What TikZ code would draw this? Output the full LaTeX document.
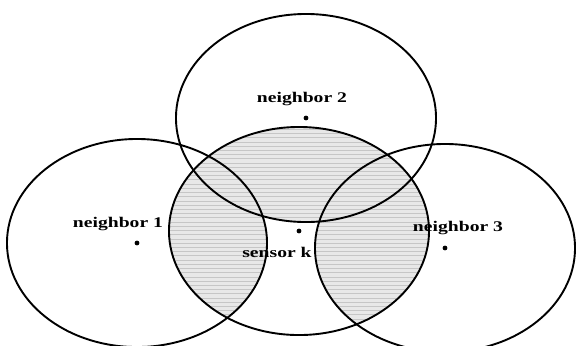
\documentclass[tikz,border=0pt]{standalone}
\usepackage{fontspec}
\setmainfont{Liberation Serif}
\usetikzlibrary{patterns}

\begin{document}
\begin{tikzpicture}[x=0.025cm, y=-0.025cm,
  rad/.style={x radius=3.25cm, y radius=2.6cm},
  zone/.style={line width=1.35pt},
  covered/.style={fill=gray!18, postaction={pattern=horizontal lines, pattern color=gray!45}},
  dot/.style={circle, fill, inner sep=0pt, minimum size=3.4pt},
  lbl/.style={font=\fontsize{10.5}{12}\selectfont\bfseries, xscale=1.33, anchor=base, inner sep=0pt}]
  \useasboundingbox (0,0) rectangle (577,345);
  \clip (0,0) rectangle (577,345);
  % sensors
  \node[dot] (n1) at (137,243) {};
  \node[dot] (n2) at (306,118) {};
  \node[dot] (n3) at (445,248) {};
  \node[dot] (k)  at (299,231) {};
  % area of sensor k covered by neighbors
  \begin{scope}
    \clip (k) ellipse [rad];
    \path[covered] (n1) ellipse [rad] (n2) ellipse [rad] (n3) ellipse [rad];
  \end{scope}
  % sensing ranges
  \draw[zone] (n1) ellipse [rad];
  \draw[zone] (n2) ellipse [rad];
  \draw[zone] (n3) ellipse [rad];
  \draw[zone] (k) ellipse [rad];
  % labels
  \node[lbl] (l1) at (118,227) {neighbor 1};
  \node[lbl] (l2) at (302,102) {neighbor 2};
  \node[lbl] (l3) at (458,231) {neighbor 3};
  \node[lbl] (lk) at (277,257) {sensor k};
\end{tikzpicture}
\end{document}
